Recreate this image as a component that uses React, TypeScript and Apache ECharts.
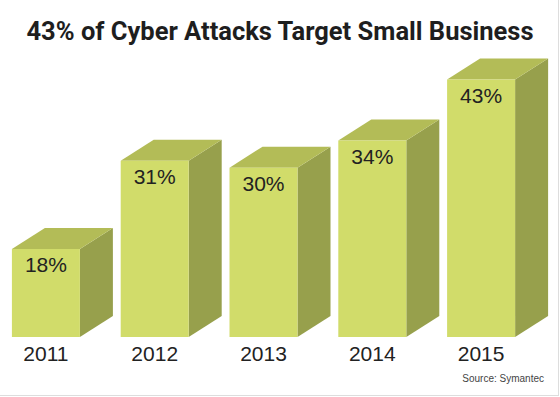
import React, { useEffect, useRef } from "react";
import * as echarts from "echarts";

const title = "43% of Cyber Attacks Target Small Business";
const source = "Source: Symantec";
const years = ["2011", "2012", "2013", "2014", "2015"];
const shares = [18, 31, 30, 34, 43];

const FRONT = "#d1dc6a";
const TOP = "#b3bc57";
const SIDE = "#97a04c";

export default function App() {
  const ref = useRef<HTMLDivElement>(null);
  useEffect(() => {
    if (!ref.current) return;
    const chart = echarts.init(ref.current, null, { renderer: "svg" });
    const fw = 68;
    const dx = 33;
    const dy = 21;
    chart.setOption({
      animation: false,
      backgroundColor: "#ffffff",
      title: {
        text: title,
        left: "center",
        top: 13,
        textStyle: {
          fontFamily: "Roboto",
          fontWeight: "bold",
          fontSize: 25.5,
          color: "#1e1e1e",
        },
      },
      grid: { left: 8, right: 8, top: 66, bottom: 60 },
      xAxis: {
        type: "category",
        data: years,
        show: false,
      },
      yAxis: { type: "value", min: 5, max: 45, show: false },
      series: [
        {
          type: "custom",
          data: shares.map((v, i) => [i, v]),
          renderItem: (params: any, api: any) => {
            const i = api.value(0);
            const v = api.value(1);
            const top = api.coord([i, v]);
            const base = api.coord([i, 5]);
            const cx = top[0];
            const yT = top[1];
            const yB = base[1];
            const L = cx - (fw + dx) / 2;
            return {
              type: "group",
              children: [
                {
                  type: "polygon",
                  shape: {
                    points: [
                      [L + fw, yT],
                      [L + fw + dx, yT - dy],
                      [L + fw + dx, yB - dy],
                      [L + fw, yB],
                    ],
                  },
                  style: { fill: SIDE },
                },
                {
                  type: "polygon",
                  shape: {
                    points: [
                      [L, yT],
                      [L + fw, yT],
                      [L + fw + dx, yT - dy],
                      [L + dx, yT - dy],
                    ],
                  },
                  style: { fill: TOP },
                },
                {
                  type: "rect",
                  shape: { x: L, y: yT, width: fw, height: yB - yT },
                  style: { fill: FRONT },
                },
                {
                  type: "text",
                  x: L + fw / 2,
                  y: yT + 16,
                  style: {
                    text: v + "%",
                    fontFamily: "Liberation Sans",
                    fontSize: 21,
                    fill: "#222222",
                    align: "center",
                    verticalAlign: "middle",
                  },
                },
                {
                  type: "text",
                  x: L + fw / 2,
                  y: yB + 16,
                  style: {
                    text: years[i],
                    fontFamily: "Liberation Sans",
                    fontSize: 21,
                    fill: "#222222",
                    align: "center",
                    verticalAlign: "middle",
                  },
                },
              ],
            };
          },
        },
      ],
      graphic: [
        {
          type: "text",
          x: 544,
          y: 378,
          style: {
            text: source,
            fontFamily: "Liberation Sans",
            fontSize: 10,
            fill: "#444444",
            align: "right",
            verticalAlign: "middle",
          },
        },
        {
          type: "line",
          shape: { x1: 558.5, y1: 0, x2: 558.5, y2: 395 },
          style: { stroke: "#dddddd", lineWidth: 1 },
        },
        {
          type: "line",
          shape: { x1: 0, y1: 395.5, x2: 559, y2: 395.5 },
          style: { stroke: "#dddddd", lineWidth: 1 },
        },
      ],
    });
    return () => chart.dispose();
  }, []);
  return (
    <div
      ref={ref}
      style={{ position: "fixed", left: 0, top: 0, width: 560, height: 397 }}
    />
  );
}
